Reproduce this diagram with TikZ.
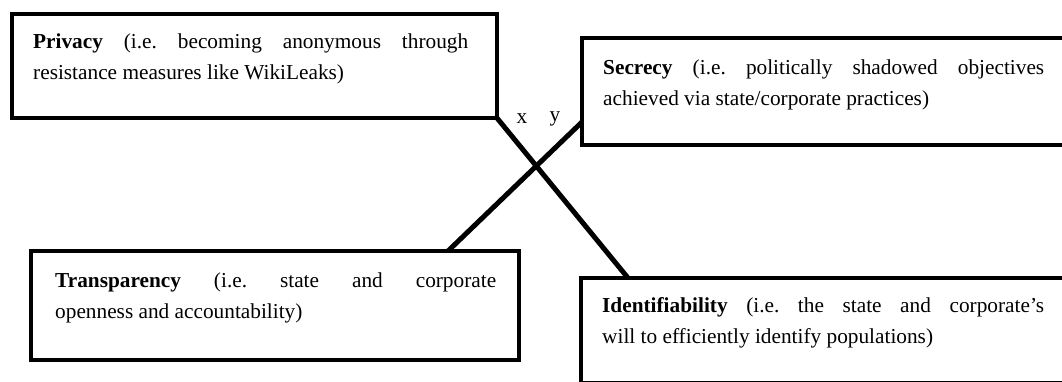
\documentclass[tikz,border=0pt]{standalone}
\usepackage{fontspec}
\setmainfont{Liberation Serif}
\usetikzlibrary{positioning}
\tikzset{
  cbox/.style = {rectangle, draw=black, line width=4.5pt, inner sep=0pt, outer sep=0pt, anchor=north west},
  ctext/.style = {align=justify, inner sep=0pt, anchor=base west, font=\fontsize{21.3}{31}\selectfont\frenchspacing},
  clink/.style = {draw=black, line width=5pt},
  clabel/.style = {inner sep=0pt, font=\fontsize{21.3}{31}\selectfont},
}

\begin{document}
\begin{tikzpicture}[x=1pt, y=-1pt]
\useasboundingbox (0,0) rectangle (1062,381);
\clip (0,0) rectangle (1062,381);
% the four frames
\node [cbox, minimum width=485pt, minimum height=104pt] (priv) at (12,14) {};
\node [cbox, minimum width=493pt, minimum height=107pt] (secr) at (582,38) {};
\node [cbox, minimum width=488pt, minimum height=109pt] (transp) at (31,251) {};
\node [cbox, minimum width=494pt, minimum height=105pt] (ident) at (581,278) {};
% texts
\node [ctext, text width=435pt] (privtext) at ([xshift=21pt, yshift=-34pt]priv.north west)
  {\textbf{Privacy} (i.e. becoming anonymous through\linebreak resistance measures like WikiLeaks)};
\node [ctext, text width=441pt] (secrtext) at ([xshift=21pt, yshift=-36pt]secr.north west)
  {\textbf{Secrecy} (i.e. politically shadowed objectives\linebreak achieved via state/corporate practices)};
\node [ctext, text width=441pt] (transptext) at ([xshift=24pt, yshift=-36pt]transp.north west)
  {\textbf{Transparency} (i.e. state and corporate\linebreak openness and accountability)};
\node [ctext, text width=442pt] (identtext) at ([xshift=21pt, yshift=-34pt]ident.north west)
  {\textbf{Identifiability} (i.e. the state and corporate’s\linebreak will to efficiently identify populations)};
% the cross
\draw [clink] (priv.south east) -- ([xshift=47pt]ident.north west);
\draw [clink] ([yshift=-30.5pt]secr.west) -- ([xshift=-71pt]transp.north east);
\node [clabel] (xlab) at ([xshift=25pt, yshift=-1pt]priv.south east) {x};
\node [clabel, right=22pt of xlab] (ylab) {y};
\end{tikzpicture}
\end{document}
